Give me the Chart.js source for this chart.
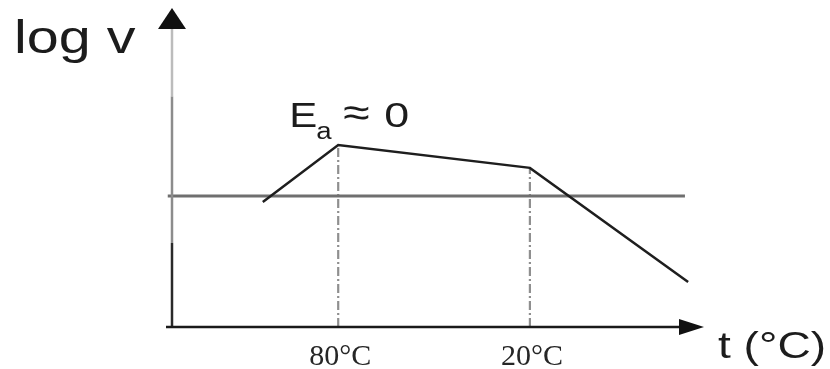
<!DOCTYPE html>
<html>
<head>
<meta charset="utf-8">
<script src="https://cdn.jsdelivr.net/npm/chart.js@4.4.1/dist/chart.umd.min.js"></script>
<style>
  html, body { margin: 0; padding: 0; background: #fff; }
  #wrap { width: 830px; height: 369px; }
</style>
</head>
<body>
<div id="wrap"><canvas id="c" width="830" height="369"></canvas></div>
<script>
// Schematic: log v against temperature (abstract 0–100 units on both axes)
const curveX = [17.1, 31.3, 67.4, 97.2];
const curveLogV = [39.4, 57.4, 50.2, 14.2];
const refLevel = 41.3;
const refSpan = [-0.8, 96.6];
const tickPos = [31.3, 67.4];
const tickLabels = ['80°C', '20°C'];
const tickTop = [57.4, 50.2];
const axisTitleY = 'log v';
const axisTitleX = 't (°C)';

const curve = curveX.map((x, i) => ({ x, y: curveLogV[i] }));
const refLine = refSpan.map(x => ({ x, y: refLevel }));
const dropLines = tickPos.map((x, i) => ({
  type: 'line',
  data: [{ x, y: 0 }, { x, y: tickTop[i] }],
  borderColor: '#8f8f8f',
  borderWidth: 2.2,
  borderDash: [9, 3, 2, 3],
  pointRadius: 0,
  fill: false,
  order: 3
}));

const SANS = '"Liberation Sans", Arial, sans-serif';
const SERIF = '"Liberation Serif", "Times New Roman", serif';

function wideText(ctx, text, x, y, font, sx, color) {
  ctx.save();
  ctx.font = font;
  ctx.fillStyle = color || '#1c1c1c';
  ctx.textBaseline = 'alphabetic';
  ctx.translate(x, y);
  ctx.scale(sx, 1);
  ctx.fillText(text, 0, 0);
  ctx.restore();
}

// Axes with arrowheads, titles, temperature labels and the Ea note
const decor = {
  id: 'decor',
  afterDatasetsDraw(chart) {
    const { ctx, scales: { x, y } } = chart;
    const x0 = x.getPixelForValue(0);
    const y0 = y.getPixelForValue(0);
    const yTop = y.getPixelForValue(100);
    const xEnd = x.getPixelForValue(100);
    ctx.save();
    ctx.lineCap = 'butt';
    // vertical axis: light upper part, mid-grey middle, dark foot
    const ySeg = [[yTop + 18, y.getPixelForValue(72.7), '#bcbcbc'],
                  [y.getPixelForValue(72.7), y.getPixelForValue(26.5), '#8c8c8c'],
                  [y.getPixelForValue(26.5), y0 + 1, '#2a2a2a']];
    ctx.lineWidth = 2.5;
    ySeg.forEach(([a, b, c]) => {
      ctx.strokeStyle = c;
      ctx.beginPath(); ctx.moveTo(x0, a); ctx.lineTo(x0, b); ctx.stroke();
    });
    // vertical arrowhead
    ctx.fillStyle = '#111';
    ctx.beginPath();
    ctx.moveTo(x0, yTop - 2);
    ctx.lineTo(x0 - 14, yTop + 19);
    ctx.lineTo(x0 + 14, yTop + 19);
    ctx.closePath(); ctx.fill();
    // horizontal axis
    ctx.strokeStyle = '#1a1a1a';
    ctx.lineWidth = 2.5;
    ctx.beginPath(); ctx.moveTo(x0 - 6, y0); ctx.lineTo(xEnd - 20, y0); ctx.stroke();
    ctx.beginPath();
    ctx.moveTo(xEnd + 1, y0);
    ctx.lineTo(xEnd - 24, y0 - 8);
    ctx.lineTo(xEnd - 24, y0 + 8);
    ctx.closePath(); ctx.fill();
    ctx.restore();

    // temperature labels under the axis
    tickPos.forEach((v, i) => {
      ctx.save();
      ctx.font = '30px ' + SERIF;
      const w = ctx.measureText(tickLabels[i]).width;
      ctx.restore();
      wideText(ctx, tickLabels[i], x.getPixelForValue(v) - w / 2 + 2, y0 + 38, '30px ' + SERIF, 1, '#262626');
    });

    // axis titles
    wideText(ctx, axisTitleY, 14, 53, '46px ' + SANS, 1.25);
    wideText(ctx, axisTitleX, xEnd + 15, y0 + 31, '36px ' + SANS, 1.28);

    // Ea ≈ 0 above the maximum
    const px = x.getPixelForValue(curveX[1]);
    const py = y.getPixelForValue(curveLogV[1]);
    wideText(ctx, 'E', px - 49, py - 18, '35px ' + SANS, 1.2);
    wideText(ctx, 'a', px - 22, py - 6, '23px ' + SANS, 1.2);
    wideText(ctx, '≈', px + 5, py - 19, '40px ' + SANS, 1.2);
    wideText(ctx, '0', px + 46, py - 18, '35px ' + SANS, 1.28);
  }
};

new Chart(document.getElementById('c'), {
  type: 'scatter',
  data: {
    datasets: [
      {
        type: 'line',
        data: curve,
        borderColor: '#1e1e1e',
        borderWidth: 2.5,
        pointRadius: 0,
        tension: 0,
        fill: false,
        order: 1
      },
      {
        type: 'line',
        data: refLine,
        borderColor: '#6f6f6f',
        borderWidth: 3,
        pointRadius: 0,
        fill: false,
        order: 2
      },
      ...dropLines
    ]
  },
  options: {
    responsive: false,
    animation: false,
    devicePixelRatio: 1,
    clip: false,
    layout: { padding: { left: 172, right: 127, top: 10, bottom: 42 } },
    plugins: { legend: { display: false }, tooltip: { enabled: false } },
    scales: {
      x: { type: 'linear', min: 0, max: 100, display: false },
      y: { type: 'linear', min: 0, max: 100, display: false }
    }
  },
  plugins: [decor]
});
</script>
</body>
</html>
